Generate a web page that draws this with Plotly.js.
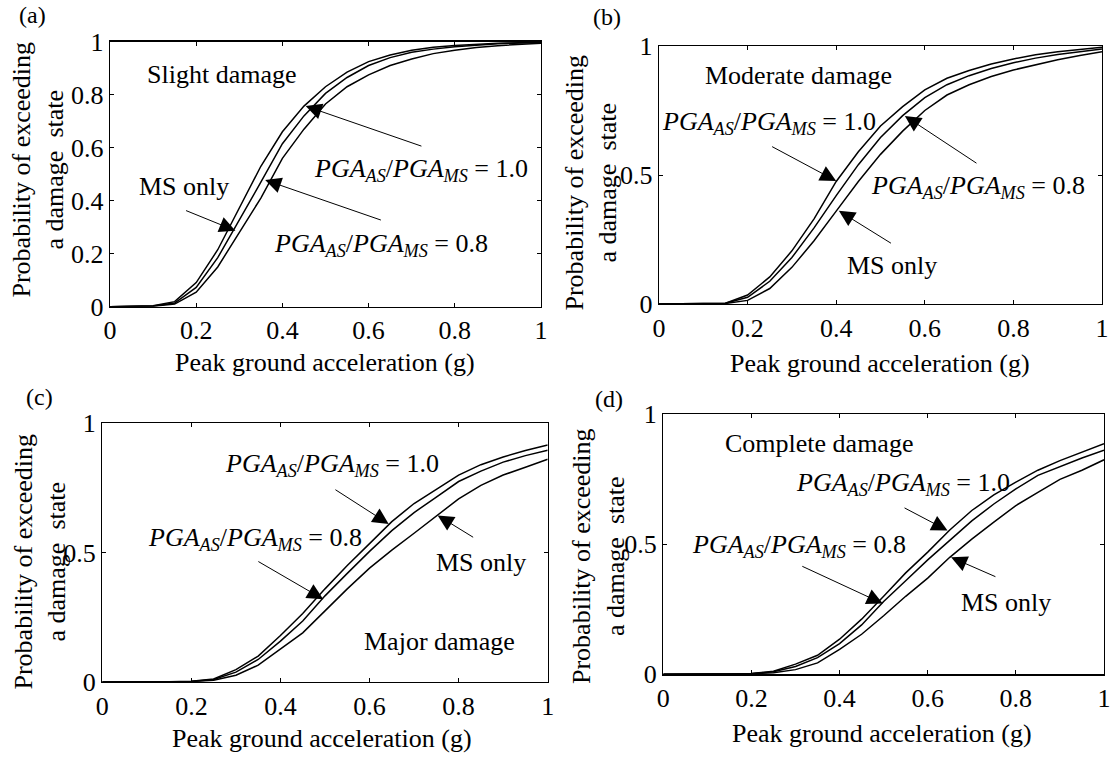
<!DOCTYPE html>
<html>
<head>
<meta charset="utf-8">
<script src="https://cdn.plot.ly/plotly-3.0.1.min.js"></script>
<style>html,body{margin:0;padding:0;background:#fff;}#chart{width:1115px;height:757px;}</style>
</head>
<body>
<div id="chart"></div>
<script>
// ---- data ----
const PGA = [0, 0.05, 0.1, 0.15, 0.2, 0.25, 0.3, 0.35, 0.4, 0.45, 0.5, 0.55, 0.6, 0.65, 0.7, 0.75, 0.8, 0.85, 0.9, 0.95, 1.0];

// (a) Slight damage
const slight_10 = [0, 0.002, 0.004, 0.019, 0.091, 0.215, 0.37, 0.53, 0.66, 0.757, 0.83, 0.885, 0.925, 0.95, 0.968, 0.979, 0.986, 0.991, 0.994, 0.996, 0.998];
const slight_08 = [0, 0.002, 0.003, 0.014, 0.073, 0.185, 0.325, 0.47, 0.615, 0.72, 0.805, 0.865, 0.91, 0.94, 0.96, 0.972, 0.981, 0.987, 0.992, 0.995, 0.997];
const slight_ms = [0, 0.001, 0.002, 0.010, 0.055, 0.15, 0.28, 0.41, 0.56, 0.67, 0.765, 0.83, 0.875, 0.91, 0.935, 0.955, 0.968, 0.978, 0.985, 0.99, 0.994];

// (b) Moderate damage
const moderate_10 = [0, 0.001, 0.002, 0.003, 0.035, 0.105, 0.206, 0.33, 0.475, 0.59, 0.69, 0.765, 0.83, 0.875, 0.905, 0.93, 0.95, 0.966, 0.978, 0.987, 0.995];
const moderate_08 = [0, 0.001, 0.002, 0.003, 0.026, 0.088, 0.18, 0.295, 0.42, 0.54, 0.645, 0.73, 0.80, 0.85, 0.885, 0.913, 0.935, 0.953, 0.967, 0.978, 0.988];
const moderate_ms = [0, 0.001, 0.001, 0.002, 0.014, 0.06, 0.142, 0.245, 0.36, 0.475, 0.58, 0.67, 0.75, 0.81, 0.85, 0.882, 0.907, 0.928, 0.947, 0.963, 0.978];

// (c) Major damage
const major_10 = [0, 0, 0.001, 0.001, 0.003, 0.012, 0.048, 0.10, 0.18, 0.265, 0.36, 0.45, 0.535, 0.62, 0.69, 0.745, 0.80, 0.84, 0.87, 0.895, 0.916];
const major_08 = [0, 0, 0.001, 0.001, 0.002, 0.010, 0.038, 0.087, 0.158, 0.236, 0.333, 0.42, 0.505, 0.585, 0.655, 0.715, 0.775, 0.815, 0.85, 0.875, 0.896];
const major_ms = [0, 0, 0, 0.001, 0.002, 0.007, 0.026, 0.065, 0.126, 0.19, 0.275, 0.36, 0.44, 0.51, 0.575, 0.64, 0.708, 0.76, 0.80, 0.83, 0.861];

// (d) Complete damage
const complete_10 = [0, 0, 0.001, 0.001, 0.003, 0.012, 0.039, 0.073, 0.135, 0.212, 0.30, 0.39, 0.47, 0.555, 0.63, 0.69, 0.739, 0.785, 0.822, 0.855, 0.887];
const complete_08 = [0, 0, 0.001, 0.001, 0.002, 0.010, 0.030, 0.064, 0.118, 0.19, 0.28, 0.36, 0.44, 0.515, 0.59, 0.655, 0.713, 0.765, 0.80, 0.832, 0.862];
const complete_ms = [0, 0, 0, 0.001, 0.002, 0.006, 0.018, 0.044, 0.096, 0.154, 0.225, 0.30, 0.37, 0.45, 0.52, 0.585, 0.649, 0.70, 0.75, 0.785, 0.825];

const panelLetters = ['(a)', '(b)', '(c)', '(d)'];
const stateLabels = ['Slight damage', 'Moderate damage', 'Major damage', 'Complete damage'];
const xTitle = 'Peak ground acceleration (g)';
const yTitle = 'Probability of exceeding<br>a damage\u00a0\u00a0state';
const label10 = '<i>PGA</i><sub><i>AS</i></sub>/<i>PGA</i><sub><i>MS</i></sub> = 1.0';
const label08 = '<i>PGA</i><sub><i>AS</i></sub>/<i>PGA</i><sub><i>MS</i></sub> = 0.8';
const labelMS = 'MS only';

// ---- layout helpers ----
const W = 1115, H = 757;
const FONT = '"Liberation Serif"';
const px = v => v / W;
const py = v => 1 - v / H;

// pixel boxes [left, right, top, bottom]
const boxes = [
  [110, 541, 41.7, 306.7],
  [659, 1102, 46, 304],
  [102.3, 547.7, 423.3, 682],
  [663.3, 1104, 414.3, 674.3]
];

const series = [
  [slight_10, slight_08, slight_ms],
  [moderate_10, moderate_08, moderate_ms],
  [major_10, major_08, major_ms],
  [complete_10, complete_08, complete_ms]
];

const traces = [];
const layout = {
  width: W, height: H,
  margin: {l: 0, r: 0, t: 0, b: 0},
  paper_bgcolor: '#fff', plot_bgcolor: '#fff',
  showlegend: false,
  font: {family: FONT, size: 26, color: '#000'},
  annotations: []
};

series.forEach((grp, i) => {
  const n = i + 1;
  const xa = n === 1 ? 'x' : 'x' + n;
  const ya = n === 1 ? 'y' : 'y' + n;
  grp.forEach(vals => {
    traces.push({
      x: PGA, y: vals, xaxis: xa, yaxis: ya,
      type: 'scatter', mode: 'lines',
      line: {color: '#000', width: 1.5},
      hoverinfo: 'skip'
    });
  });
  const b = boxes[i];
  const axCommon = {
    range: [0, 1], showgrid: false, zeroline: false,
    showline: true, linecolor: '#000', linewidth: 1.4, mirror: 'ticks',
    ticks: 'inside', ticklen: 4, tickwidth: 1, tickcolor: '#000',
    tickfont: {family: FONT, size: 26, color: '#000'},
    fixedrange: true
  };
  layout['xaxis' + (n === 1 ? '' : n)] = Object.assign({}, axCommon, {
    domain: [px(b[0]), px(b[1])], anchor: ya, dtick: 0.2, tick0: 0
  });
  layout['yaxis' + (n === 1 ? '' : n)] = Object.assign({}, axCommon, {
    domain: [py(b[3]), py(b[2])], anchor: xa, dtick: i === 0 ? 0.2 : 0.5, tick0: 0
  });
});

function txt(xa, ya, x, y, text, extra) {
  return Object.assign({xref: xa, yref: ya, x: x, y: y, text: text, showarrow: false,
    xanchor: 'center', yanchor: 'middle', font: {family: FONT, size: 26, color: '#000'}}, extra || {});
}
function arrow(xa, ya, tipx, tipy, tailx, taily) {
  return {xref: xa, yref: ya, axref: xa, ayref: ya, x: tipx, y: tipy, ax: tailx, ay: taily,
    text: '', showarrow: true, arrowhead: 2, arrowsize: 3.2, arrowwidth: 1, arrowcolor: '#000',
    standoff: 0, startstandoff: 0};
}

const A = layout.annotations;
// panel letters
const letterPos = [[32, 15], [607, 17], [39, 397], [609, 399]];
letterPos.forEach((p, i) => A.push(txt('paper', 'paper', px(p[0]), py(p[1]), panelLetters[i], {font: {family: FONT, size: 24, color: '#000'}})));
// x titles
const xTitlePos = [[325, 362], [880, 363], [322, 738], [882, 733]];
xTitlePos.forEach(p => A.push(txt('paper', 'paper', px(p[0]), py(p[1]), xTitle)));
// y titles
const yTitlePos = [[38.5, 170], [590.5, 183], [39.5, 562], [598, 556]];
yTitlePos.forEach(p => A.push(txt('paper', 'paper', px(p[0]), py(p[1]), yTitle, {textangle: -90})));

// (a)
A.push(txt('x', 'y', 0.259, 0.878, stateLabels[0]));
A.push(txt('x', 'y', 0.722, 0.516, label10));
A.push(txt('x', 'y', 0.628, 0.233, label08));
A.push(txt('x', 'y', 0.171, 0.453, labelMS));
A.push(arrow('x', 'y', 0.454, 0.757, 0.726, 0.604));
A.push(arrow('x', 'y', 0.36, 0.478, 0.632, 0.325));
A.push(arrow('x', 'y', 0.291, 0.287, 0.173, 0.365));
// (b)
A.push(txt('x2', 'y2', 0.315, 0.886, stateLabels[1]));
A.push(txt('x2', 'y2', 0.248, 0.703, label10));
A.push(txt('x2', 'y2', 0.72, 0.452, label08));
A.push(txt('x2', 'y2', 0.527, 0.148, labelMS));
A.push(arrow('x2', 'y2', 0.40, 0.477, 0.252, 0.613));
A.push(arrow('x2', 'y2', 0.555, 0.729, 0.72, 0.542));
A.push(arrow('x2', 'y2', 0.406, 0.361, 0.527, 0.232));
// (c)
A.push(txt('x3', 'y3', 0.757, 0.158, stateLabels[2]));
A.push(txt('x3', 'y3', 0.516, 0.838, label10));
A.push(txt('x3', 'y3', 0.343, 0.553, label08));
A.push(txt('x3', 'y3', 0.85, 0.462, labelMS));
A.push(arrow('x3', 'y3', 0.643, 0.611, 0.52, 0.747));
A.push(arrow('x3', 'y3', 0.496, 0.32, 0.347, 0.469));
A.push(arrow('x3', 'y3', 0.753, 0.644, 0.836, 0.556));
// (d)
A.push(txt('x4', 'y4', 0.353, 0.887, stateLabels[3]));
A.push(txt('x4', 'y4', 0.544, 0.733, label10));
A.push(txt('x4', 'y4', 0.308, 0.495, label08));
A.push(txt('x4', 'y4', 0.777, 0.276, labelMS));
A.push(arrow('x4', 'y4', 0.645, 0.553, 0.544, 0.643));
A.push(arrow('x4', 'y4', 0.498, 0.272, 0.312, 0.418));
A.push(arrow('x4', 'y4', 0.653, 0.45, 0.757, 0.373));

Plotly.newPlot('chart', traces, layout, {displayModeBar: false, staticPlot: true});
</script>
</body>
</html>
